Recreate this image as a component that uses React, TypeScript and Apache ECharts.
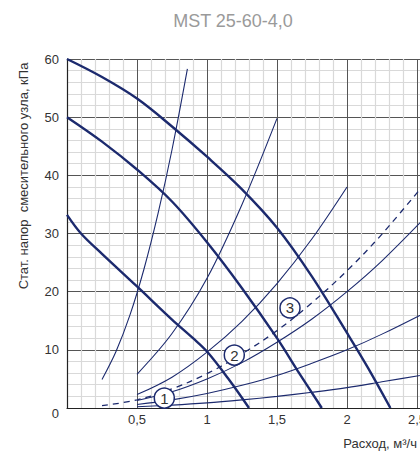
import React, { useEffect, useRef } from "react";
import * as echarts from "echarts";

// Pump curves (thick)
const pumpAQ = [0, 0.25, 0.5, 0.75, 1.0, 1.25, 1.5, 1.75, 2.0, 2.15, 2.31];
const pumpAH = [60, 56.9, 53.2, 48.4, 43.2, 37.6, 31.0, 22.6, 12.9, 6.9, 0];
const pumpBQ = [0, 0.25, 0.5, 0.75, 1.0, 1.25, 1.5, 1.65, 1.82];
const pumpBH = [50, 45.8, 41, 35.5, 28.5, 20.6, 12, 6.3, 0];
const pumpCQ = [0, 0.1, 0.25, 0.5, 0.75, 0.9, 1.0, 1.15, 1.3];
const pumpCH = [33.2, 30, 26.5, 20.9, 15.2, 12.0, 9.7, 5.1, 0];

// Steep thin lines
const steep1Q = [0.25, 0.35, 0.45, 0.55, 0.65, 0.75, 0.86];
const steep1H = [4.9, 9.7, 16, 23.9, 33.4, 44.4, 58.3];
const steep2Q = [0.5, 0.75, 1.0, 1.25, 1.5];
const steep2H = [5.8, 12.8, 22.3, 35, 49.8];

// Fan lines
const fanQ = [0.5, 0.75, 1.0, 1.25, 1.5, 1.75, 2.0, 2.25, 2.6];
const fan1H = [2.3, 5.3, 9.6, 14.9, 21.4, 29.1, 38];
const fan2H = [1.3, 2.8, 5, 7.8, 11.3, 15.3, 20, 25.3, 33.8];
const fan3H = [0.6, 1.4, 2.5, 3.9, 5.6, 7.7, 10, 12.7, 16.9];
const fan4H = [0.22, 0.5, 0.88, 1.4, 2.0, 2.7, 3.5, 4.5, 5.9];
const dashQ = [0.25, 0.5, 0.75, 1.0, 1.25, 1.5, 1.75, 2.0, 2.25, 2.6];
const dashH = [0.4, 1.4, 3.3, 5.9, 9.3, 13.3, 18.1, 23.6, 29.9, 39.9];

// Circle labels
const markQ = [0.695, 1.195, 1.593];
const markH = [1.7, 9.1, 17.2];
const markText = ["1", "2", "3"];

const xTicks = [0.5, 1, 1.5, 2, 2.5];

const NAVY = "#1c2a6e";
const FONT = "Liberation Sans, Arial, sans-serif";

const zip = (q: number[], h: number[]) => h.map((v, i) => [q[i], v]);

export default function App() {
  const ref = useRef<HTMLDivElement>(null);
  useEffect(() => {
    if (!ref.current) return;
    const chart = echarts.init(ref.current, null, { renderer: "svg" });
    const thick = (q: number[], h: number[]) => ({
      type: "line",
      data: zip(q, h),
      smooth: 0.35,
      showSymbol: false,
      lineStyle: { color: NAVY, width: 2.4 },
      z: 3,
    });
    const thin = (q: number[], h: number[], dashed = false) => ({
      type: "line",
      data: zip(q, h),
      smooth: 0.35,
      showSymbol: false,
      lineStyle: {
        color: NAVY,
        width: dashed ? 1.3 : 1.1,
        type: dashed ? [6, 5] : "solid",
      },
      z: 2,
    });
    chart.setOption({
      animation: false,
      textStyle: { fontFamily: FONT },
      grid: { left: 67, top: 59, width: 364, height: 349 },
      xAxis: {
        type: "value",
        min: 0,
        max: 2.6,
        interval: 0.5,
        axisLine: { show: true, lineStyle: { color: "#222", width: 1.2 } },
        axisTick: { show: false },
        axisLabel: {
          color: "#333",
          fontSize: 13,
          fontFamily: FONT,
          margin: 5,
          showMinLabel: false,
          showMaxLabel: false,
          formatter: (v: number) =>
            xTicks.includes(v) ? String(v).replace(".", ",") : "",
        },
        splitLine: { show: true, lineStyle: { color: "#555", width: 1 } },
        minorTick: { show: false, splitNumber: 5 },
        minorSplitLine: { show: true, lineStyle: { color: "#d9d9d9", width: 1.2 } },
      },
      yAxis: {
        type: "value",
        min: 0,
        max: 60,
        interval: 10,
        axisLine: { show: true, lineStyle: { color: "#222", width: 1.2 } },
        axisTick: { show: false },
        axisLabel: {
          color: "#333",
          fontSize: 13,
          fontFamily: FONT,
          margin: 8,
          formatter: (v: number) => (v === 0 ? "{z|0}" : String(v)),
          rich: { z: { fontSize: 13, color: "#333", fontFamily: FONT, padding: [10, 0, 0, 0] } },
        },
        splitLine: { show: true, lineStyle: { color: "#555", width: 1 } },
        minorTick: { show: false, splitNumber: 5 },
        minorSplitLine: { show: true, lineStyle: { color: "#d9d9d9", width: 1.2 } },
      },
      graphic: [
        {
          type: "text",
          x: 233,
          y: 21,
          style: {
            text: "MST 25-60-4,0",
            fill: "#9a9a9a",
            fontSize: 18,
            fontFamily: FONT,
            textAlign: "center",
            textVerticalAlign: "middle",
          },
        },
        {
          type: "text",
          x: 23,
          y: 176,
          rotation: Math.PI / 2,
          style: {
            text: "Стат. напор  смесительного узла, кПа",
            fill: "#333",
            fontSize: 13,
            fontFamily: FONT,
            textAlign: "center",
            textVerticalAlign: "middle",
          },
        },
        {
          type: "text",
          x: 417,
          y: 443,
          style: {
            text: "Расход, м³/ч",
            fill: "#333",
            fontSize: 13,
            fontFamily: FONT,
            textAlign: "right",
            textVerticalAlign: "middle",
          },
        },
      ],
      series: [
        thin(steep1Q, steep1H),
        thin(steep2Q, steep2H),
        thin(fanQ.slice(0, fan1H.length), fan1H),
        thin(fanQ, fan2H),
        thin(fanQ, fan3H),
        thin(fanQ, fan4H),
        thin(dashQ, dashH, true),
        thick(pumpAQ, pumpAH),
        thick(pumpBQ, pumpBH),
        thick(pumpCQ, pumpCH),
        {
          type: "scatter",
          data: markQ.map((q, i) => [q, markH[i], markText[i]]),
          symbol: "circle",
          symbolSize: 20,
          z: 5,
          itemStyle: { color: "#fff", borderColor: NAVY, borderWidth: 1.5, opacity: 1 },
          label: {
            show: true,
            position: "inside",
            formatter: (p: any) => p.value[2],
            color: "#333",
            fontSize: 15,
            fontFamily: FONT,
          },
        },
      ],
    });
    return () => chart.dispose();
  }, []);
  return (
    <div
      style={{
        position: "absolute",
        left: 0,
        top: 0,
        width: 420,
        height: 454,
        overflow: "hidden",
        background: "#fff",
      }}
    >
      <div ref={ref} style={{ width: 450, height: 454 }} />
    </div>
  );
}
